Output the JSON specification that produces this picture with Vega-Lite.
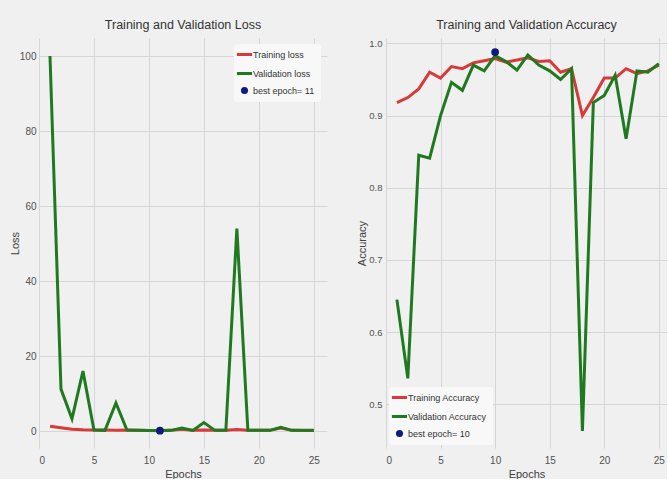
{
  "$schema": "https://vega.github.io/schema/vega-lite/v6.json",
  "background": "#f0f0f0",
  "padding": {"left": 9, "top": 18, "right": 0, "bottom": 0},
  "spacing": 29,
  "config": {
    "view": {"stroke": null, "fill": "#f0f0f0"},
    "font": "Liberation Sans",
    "title": {"font": "Liberation Sans", "fontSize": 12.5, "fontWeight": "normal", "color": "#333333", "offset": 7, "anchor": "middle"},
    "axis": {
      "domain": false, "ticks": false, "grid": true, "gridColor": "#d6d6d6", "gridWidth": 1,
      "labelFont": "Liberation Sans", "labelFontSize": 10, "labelColor": "#505050",
      "titleFont": "Liberation Sans", "titleFontSize": 11, "titleFontWeight": "normal", "titleColor": "#404040"
    },
    "legend": {"labelFont": "Liberation Sans", "labelFontSize": 9, "labelColor": "#333333", "fillColor": "#f8f8f8", "padding": 6, "rowPadding": 6, "cornerRadius": 3}
  },
  "datasets": {
    "loss": [
      {"epoch": 1, "series": "Training loss", "value": 1.3, "kind": "line"},
      {"epoch": 2, "series": "Training loss", "value": 0.9, "kind": "line"},
      {"epoch": 3, "series": "Training loss", "value": 0.5, "kind": "line"},
      {"epoch": 4, "series": "Training loss", "value": 0.35, "kind": "line"},
      {"epoch": 5, "series": "Training loss", "value": 0.3, "kind": "line"},
      {"epoch": 6, "series": "Training loss", "value": 0.3, "kind": "line"},
      {"epoch": 7, "series": "Training loss", "value": 0.25, "kind": "line"},
      {"epoch": 8, "series": "Training loss", "value": 0.3, "kind": "line"},
      {"epoch": 9, "series": "Training loss", "value": 0.2, "kind": "line"},
      {"epoch": 10, "series": "Training loss", "value": 0.15, "kind": "line"},
      {"epoch": 11, "series": "Training loss", "value": 0.15, "kind": "line"},
      {"epoch": 12, "series": "Training loss", "value": 0.2, "kind": "line"},
      {"epoch": 13, "series": "Training loss", "value": 0.5, "kind": "line"},
      {"epoch": 14, "series": "Training loss", "value": 0.2, "kind": "line"},
      {"epoch": 15, "series": "Training loss", "value": 0.3, "kind": "line"},
      {"epoch": 16, "series": "Training loss", "value": 0.2, "kind": "line"},
      {"epoch": 17, "series": "Training loss", "value": 0.2, "kind": "line"},
      {"epoch": 18, "series": "Training loss", "value": 0.4, "kind": "line"},
      {"epoch": 19, "series": "Training loss", "value": 0.2, "kind": "line"},
      {"epoch": 20, "series": "Training loss", "value": 0.2, "kind": "line"},
      {"epoch": 21, "series": "Training loss", "value": 0.2, "kind": "line"},
      {"epoch": 22, "series": "Training loss", "value": 0.8, "kind": "line"},
      {"epoch": 23, "series": "Training loss", "value": 0.2, "kind": "line"},
      {"epoch": 24, "series": "Training loss", "value": 0.15, "kind": "line"},
      {"epoch": 25, "series": "Training loss", "value": 0.15, "kind": "line"},
      {"epoch": 1, "series": "Validation loss", "value": 100, "kind": "line"},
      {"epoch": 2, "series": "Validation loss", "value": 11.2, "kind": "line"},
      {"epoch": 3, "series": "Validation loss", "value": 3.3, "kind": "line"},
      {"epoch": 4, "series": "Validation loss", "value": 16, "kind": "line"},
      {"epoch": 5, "series": "Validation loss", "value": 0.3, "kind": "line"},
      {"epoch": 6, "series": "Validation loss", "value": 0.2, "kind": "line"},
      {"epoch": 7, "series": "Validation loss", "value": 7.5, "kind": "line"},
      {"epoch": 8, "series": "Validation loss", "value": 0.3, "kind": "line"},
      {"epoch": 9, "series": "Validation loss", "value": 0.2, "kind": "line"},
      {"epoch": 10, "series": "Validation loss", "value": 0.15, "kind": "line"},
      {"epoch": 11, "series": "Validation loss", "value": 0.1, "kind": "line"},
      {"epoch": 12, "series": "Validation loss", "value": 0.2, "kind": "line"},
      {"epoch": 13, "series": "Validation loss", "value": 0.8, "kind": "line"},
      {"epoch": 14, "series": "Validation loss", "value": 0.2, "kind": "line"},
      {"epoch": 15, "series": "Validation loss", "value": 2.3, "kind": "line"},
      {"epoch": 16, "series": "Validation loss", "value": 0.2, "kind": "line"},
      {"epoch": 17, "series": "Validation loss", "value": 0.2, "kind": "line"},
      {"epoch": 18, "series": "Validation loss", "value": 54, "kind": "line"},
      {"epoch": 19, "series": "Validation loss", "value": 0.2, "kind": "line"},
      {"epoch": 20, "series": "Validation loss", "value": 0.2, "kind": "line"},
      {"epoch": 21, "series": "Validation loss", "value": 0.2, "kind": "line"},
      {"epoch": 22, "series": "Validation loss", "value": 1.0, "kind": "line"},
      {"epoch": 23, "series": "Validation loss", "value": 0.2, "kind": "line"},
      {"epoch": 24, "series": "Validation loss", "value": 0.2, "kind": "line"},
      {"epoch": 25, "series": "Validation loss", "value": 0.2, "kind": "line"},
      {"epoch": 11, "series": "best epoch= 11", "value": 0.1, "kind": "best"}
    ],
    "acc": [
      {"epoch": 1, "series": "Training Accuracy", "value": 0.918, "kind": "line"},
      {"epoch": 2, "series": "Training Accuracy", "value": 0.925, "kind": "line"},
      {"epoch": 3, "series": "Training Accuracy", "value": 0.937, "kind": "line"},
      {"epoch": 4, "series": "Training Accuracy", "value": 0.96, "kind": "line"},
      {"epoch": 5, "series": "Training Accuracy", "value": 0.952, "kind": "line"},
      {"epoch": 6, "series": "Training Accuracy", "value": 0.968, "kind": "line"},
      {"epoch": 7, "series": "Training Accuracy", "value": 0.965, "kind": "line"},
      {"epoch": 8, "series": "Training Accuracy", "value": 0.973, "kind": "line"},
      {"epoch": 9, "series": "Training Accuracy", "value": 0.976, "kind": "line"},
      {"epoch": 10, "series": "Training Accuracy", "value": 0.979, "kind": "line"},
      {"epoch": 11, "series": "Training Accuracy", "value": 0.974, "kind": "line"},
      {"epoch": 12, "series": "Training Accuracy", "value": 0.977, "kind": "line"},
      {"epoch": 13, "series": "Training Accuracy", "value": 0.98, "kind": "line"},
      {"epoch": 14, "series": "Training Accuracy", "value": 0.975, "kind": "line"},
      {"epoch": 15, "series": "Training Accuracy", "value": 0.976, "kind": "line"},
      {"epoch": 16, "series": "Training Accuracy", "value": 0.96, "kind": "line"},
      {"epoch": 17, "series": "Training Accuracy", "value": 0.965, "kind": "line"},
      {"epoch": 18, "series": "Training Accuracy", "value": 0.9, "kind": "line"},
      {"epoch": 19, "series": "Training Accuracy", "value": 0.925, "kind": "line"},
      {"epoch": 20, "series": "Training Accuracy", "value": 0.952, "kind": "line"},
      {"epoch": 21, "series": "Training Accuracy", "value": 0.952, "kind": "line"},
      {"epoch": 22, "series": "Training Accuracy", "value": 0.965, "kind": "line"},
      {"epoch": 23, "series": "Training Accuracy", "value": 0.958, "kind": "line"},
      {"epoch": 24, "series": "Training Accuracy", "value": 0.962, "kind": "line"},
      {"epoch": 25, "series": "Training Accuracy", "value": 0.97, "kind": "line"},
      {"epoch": 1, "series": "Validation Accuracy", "value": 0.645, "kind": "line"},
      {"epoch": 2, "series": "Validation Accuracy", "value": 0.536, "kind": "line"},
      {"epoch": 3, "series": "Validation Accuracy", "value": 0.845, "kind": "line"},
      {"epoch": 4, "series": "Validation Accuracy", "value": 0.841, "kind": "line"},
      {"epoch": 5, "series": "Validation Accuracy", "value": 0.9, "kind": "line"},
      {"epoch": 6, "series": "Validation Accuracy", "value": 0.946, "kind": "line"},
      {"epoch": 7, "series": "Validation Accuracy", "value": 0.935, "kind": "line"},
      {"epoch": 8, "series": "Validation Accuracy", "value": 0.97, "kind": "line"},
      {"epoch": 9, "series": "Validation Accuracy", "value": 0.962, "kind": "line"},
      {"epoch": 10, "series": "Validation Accuracy", "value": 0.983, "kind": "line"},
      {"epoch": 11, "series": "Validation Accuracy", "value": 0.975, "kind": "line"},
      {"epoch": 12, "series": "Validation Accuracy", "value": 0.963, "kind": "line"},
      {"epoch": 13, "series": "Validation Accuracy", "value": 0.984, "kind": "line"},
      {"epoch": 14, "series": "Validation Accuracy", "value": 0.97, "kind": "line"},
      {"epoch": 15, "series": "Validation Accuracy", "value": 0.962, "kind": "line"},
      {"epoch": 16, "series": "Validation Accuracy", "value": 0.95, "kind": "line"},
      {"epoch": 17, "series": "Validation Accuracy", "value": 0.965, "kind": "line"},
      {"epoch": 18, "series": "Validation Accuracy", "value": 0.463, "kind": "line"},
      {"epoch": 19, "series": "Validation Accuracy", "value": 0.918, "kind": "line"},
      {"epoch": 20, "series": "Validation Accuracy", "value": 0.928, "kind": "line"},
      {"epoch": 21, "series": "Validation Accuracy", "value": 0.956, "kind": "line"},
      {"epoch": 22, "series": "Validation Accuracy", "value": 0.868, "kind": "line"},
      {"epoch": 23, "series": "Validation Accuracy", "value": 0.962, "kind": "line"},
      {"epoch": 24, "series": "Validation Accuracy", "value": 0.96, "kind": "line"},
      {"epoch": 25, "series": "Validation Accuracy", "value": 0.972, "kind": "line"},
      {"epoch": 10, "series": "best epoch= 10", "value": 0.988, "kind": "best"}
    ]
  },
  "hconcat": [
    {
      "width": 288,
      "height": 410,
      "title": "Training and Validation Loss",
      "data": {"name": "loss"},
      "encoding": {
        "x": {"field": "epoch", "type": "quantitative", "title": "Epochs",
              "scale": {"domain": [0, 26.2], "nice": false, "zero": false},
              "axis": {"values": [0, 5, 10, 15, 20, 25], "labelPadding": 7, "titlePadding": 3}},
        "y": {"field": "value", "type": "quantitative", "title": "Loss",
              "scale": {"domain": [-4.5, 104.8], "nice": false, "zero": false},
              "axis": {"values": [0, 20, 40, 60, 80, 100], "labelPadding": 3, "titlePadding": 2, "minExtent": 17, "maxExtent": 17}},
        "color": {"field": "series", "type": "nominal",
                  "scale": {"domain": ["Training loss", "Validation loss", "best epoch= 11"], "range": ["#d83a3a", "#1f7a1f", "#0d1a80"]},
                  "legend": {"title": null, "orient": "top-right", "offset": 6,
                             "encode": {"symbols": {"update": {
                               "shape": {"signal": "datum.value === 'best epoch= 11' ? 'circle' : 'stroke'"},
                               "size": {"signal": "datum.value === 'best epoch= 11' ? 50 : 230"},
                               "strokeWidth": {"signal": "datum.value === 'best epoch= 11' ? 0 : 3"},
                               "stroke": {"scale": "color", "field": "value"},
                               "fill": {"scale": "color", "field": "value"},
                               "opacity": {"value": 1}
                             }}}}}
      },
      "layer": [
        {"transform": [{"filter": "datum.kind === 'line'"}],
         "mark": {"type": "line", "strokeWidth": 3}},
        {"transform": [{"filter": "datum.kind === 'best'"}],
         "mark": {"type": "point", "filled": true, "size": 60, "opacity": 1}}
      ]
    },
    {
      "width": 281,
      "height": 410,
      "title": "Training and Validation Accuracy",
      "data": {"name": "acc"},
      "encoding": {
        "x": {"field": "epoch", "type": "quantitative", "title": "Epochs",
              "scale": {"domain": [0, 25.75], "nice": false, "zero": false},
              "axis": {"values": [0, 5, 10, 15, 20, 25], "labelPadding": 7, "titlePadding": 3}},
        "y": {"field": "value", "type": "quantitative", "title": "Accuracy",
              "scale": {"domain": [0.4395, 1.0075], "nice": false, "zero": false},
              "axis": {"values": [0.5, 0.6, 0.7, 0.8, 0.9, 1.0], "format": ".1f", "labelFontSize": 9.5, "labelPadding": 4, "titlePadding": 1, "minExtent": 18, "maxExtent": 18}},
        "color": {"field": "series", "type": "nominal",
                  "scale": {"domain": ["Training Accuracy", "Validation Accuracy", "best epoch= 10"], "range": ["#d83a3a", "#1f7a1f", "#0d1a80"]},
                  "legend": {"title": null, "orient": "bottom-left", "offset": 3,
                             "encode": {"symbols": {"update": {
                               "shape": {"signal": "datum.value === 'best epoch= 10' ? 'circle' : 'stroke'"},
                               "size": {"signal": "datum.value === 'best epoch= 10' ? 50 : 230"},
                               "strokeWidth": {"signal": "datum.value === 'best epoch= 10' ? 0 : 3"},
                               "stroke": {"scale": "color", "field": "value"},
                               "fill": {"scale": "color", "field": "value"},
                               "opacity": {"value": 1}
                             }}}}}
      },
      "layer": [
        {"transform": [{"filter": "datum.kind === 'line'"}],
         "mark": {"type": "line", "strokeWidth": 3}},
        {"transform": [{"filter": "datum.kind === 'best'"}],
         "mark": {"type": "point", "filled": true, "size": 60, "opacity": 1}}
      ]
    }
  ],
  "resolve": {"scale": {"color": "independent", "x": "independent", "y": "independent"}, "legend": {"color": "independent"}}
}
